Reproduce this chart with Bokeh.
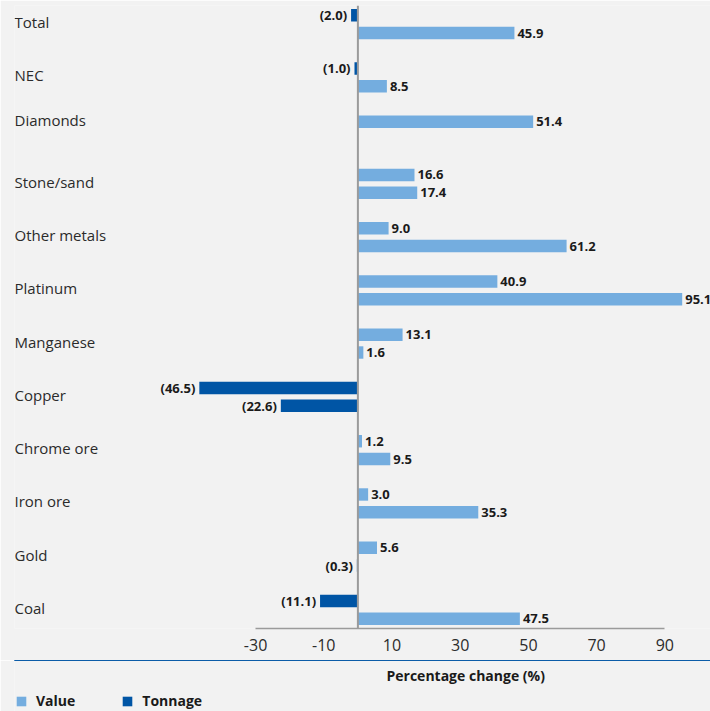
from bokeh.plotting import figure
from bokeh.layouts import column
from bokeh.models import (ColumnDataSource, Range1d, FixedTicker, Span, Label,
                          Legend, LegendItem)
from bokeh.core.properties import value as pval
from bokeh.embed import file_html
from bokeh.resources import INLINE

# ---- data ----
categories = ["Total", "NEC", "Diamonds", "Stone/sand", "Other metals", "Platinum",
              "Manganese", "Copper", "Chrome ore", "Iron ore", "Gold", "Coal"]
tonnage = [-2.0, -1.0, 51.4, 16.6, 9.0, 40.9, 13.1, -46.5, 1.2, 3.0, 5.6, -11.1]
value = [45.9, 8.5, None, 17.4, 61.2, 95.1, 1.6, -22.6, 9.5, 35.3, -0.3, 47.5]
x_ticks = [-30, -10, 10, 30, 50, 70, 90]
axis_title = "Percentage change (%)"

# ---- style ----
LIGHT = "#74ADDF"
DARK = "#0055A5"
BG = "#F2F2F2"
AXIS = "#9B9B9B"
TXT = "#1A1A1A"
FONT = "Open Sans"
SLOT = 0.167
BAR_H = 0.233
LEFT = 14


def fmt(v):
    return f"({abs(v):.1f})" if v < 0 else f"{v:.1f}"


def build(vals, shift):
    rows = [(i, v) for i, v in enumerate(vals) if v is not None]
    return dict(
        y=[i + shift for i, v in rows],
        x=[v for i, v in rows],
        color=[LIGHT if v >= 0 else DARK for i, v in rows],
        label=[fmt(v) for i, v in rows],
    )


n = len(categories)
p = figure(frame_width=710 - LEFT, frame_height=623,
           x_range=Range1d(-100.7, 103.4),
           y_range=Range1d(n - 1 + 0.35, -0.35),
           output_backend="svg", toolbar_location=None, y_axis_location=None,
           min_border_left=LEFT, min_border_right=0, min_border_top=5,
           min_border_bottom=32,
           background_fill_color=BG, border_fill_color=BG,
           outline_line_color=None)
p.grid.visible = False

sources = {}
for name, vals, shift in (("Tonnage", tonnage, -SLOT), ("Value", value, SLOT)):
    d = build(vals, shift)
    src = ColumnDataSource(d)
    sources[name] = src
    p.hbar(y="y", left=0, right="x", height=BAR_H, fill_color="color",
           line_color=None, source=src)
    pos = {k: [d[k][j] for j in range(len(d["x"])) if d["x"][j] >= 0] for k in d}
    neg = {k: [d[k][j] for j in range(len(d["x"])) if d["x"][j] < 0] for k in d}
    p.text(x="x", y="y", text="label", source=ColumnDataSource(pos),
           text_align="left", text_baseline="middle", x_offset=3,
           text_font=pval(FONT), text_font_style="bold", text_font_size="13px",
           text_color=TXT)
    p.text(x="x", y="y", text="label", source=ColumnDataSource(neg),
           text_align="right", text_baseline="middle", x_offset=-4,
           text_font=pval(FONT), text_font_style="bold", text_font_size="13px",
           text_color=TXT)

# category labels, left aligned, centred on the bars present
cat_y = []
for i in range(n):
    shifts = []
    if tonnage[i] is not None:
        shifts.append(i - SLOT)
    if value[i] is not None:
        shifts.append(i + SLOT)
    cat_y.append(sum(shifts) / len(shifts))
p.text(x=[p.x_range.start] * n, y=cat_y, text=categories, x_offset=0,
       y_offset=-2, text_align="left", text_baseline="middle",
       text_font=pval(FONT), text_font_size="15px", text_color="#2B2B2B")

p.add_layout(Span(location=0, dimension="height", line_color=AXIS, line_width=2))

ax = p.xaxis[0]
ax.ticker = FixedTicker(ticks=x_ticks)
ax.major_label_overrides = {t: str(t) for t in x_ticks}
ax.bounds = (x_ticks[0], x_ticks[-1])
ax.axis_line_color = AXIS
ax.axis_line_width = 1.5
ax.major_tick_line_color = None
ax.minor_tick_line_color = None
ax.major_tick_out = 0
ax.major_label_standoff = 10
ax.major_label_text_font = FONT
ax.major_label_text_font_size = "16px"
ax.major_label_text_color = "#2B2B2B"

# ---- footer strip: axis title and legend ----
FOOT_H = 51
f = figure(width=710, height=FOOT_H, output_backend="svg", toolbar_location=None,
           x_axis_location=None, y_axis_location=None,
           x_range=Range1d(0, 1), y_range=Range1d(-100, -99),
           min_border_left=LEFT, min_border_right=0, min_border_top=0,
           min_border_bottom=0,
           background_fill_color=BG, border_fill_color=BG,
           outline_line_color=None)
f.grid.visible = False
f.add_layout(Label(x=386 - LEFT, y=FOOT_H - 15, x_units="screen", y_units="screen",
                   text=axis_title, text_align="left", text_baseline="middle",
                   text_font=FONT, text_font_size="14px", text_font_style="bold",
                   text_color=TXT))

# legend keys: the same series (out of this strip's view), one colour each
r_val = f.hbar(y="y", left=0, right="x", height=BAR_H, fill_color=LIGHT,
               line_color=None, source=sources["Value"])
r_ton = f.hbar(y="y", left=0, right="x", height=BAR_H, fill_color=DARK,
               line_color=None, source=sources["Tonnage"])
legend = Legend(items=[LegendItem(label="Value", renderers=[r_val]),
                       LegendItem(label="Tonnage", renderers=[r_ton])],
                orientation="horizontal", location=(15 - LEFT, 1), glyph_width=12,
                glyph_height=12, label_standoff=9, spacing=46, padding=0,
                margin=0, border_line_color=None, background_fill_alpha=0,
                label_text_font=FONT, label_text_font_style="bold",
                label_text_font_size="14px", label_text_color=TXT)
f.add_layout(legend)

layout = column(p, f, spacing=0)
open("out.html", "w").write(file_html(layout, INLINE))
